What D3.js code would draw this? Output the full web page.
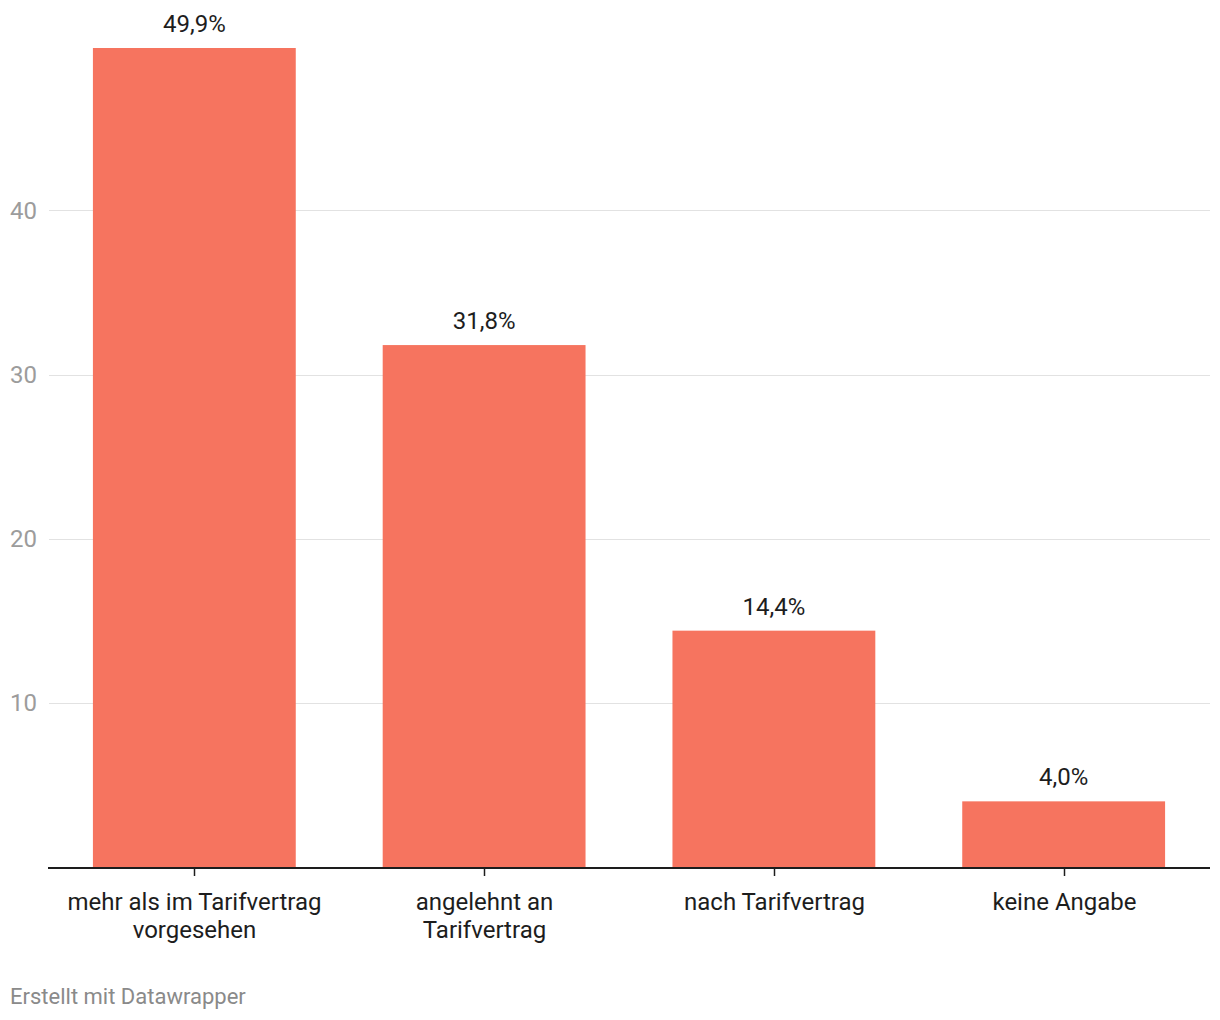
<!DOCTYPE html>
<html>
<head>
<meta charset="utf-8">
<script src="https://cdn.jsdelivr.net/npm/d3@7"></script>
<style>
  body { margin: 0; background: #fff; font-family: Roboto, sans-serif; }
</style>
</head>
<body>
<svg id="chart" width="1220" height="1020"></svg>
<script>
// data
const categories = [['mehr als im Tarifvertrag', 'vorgesehen'], ['angelehnt an', 'Tarifvertrag'], ['nach Tarifvertrag'], ['keine Angabe']];
const values = [49.9, 31.8, 14.4, 4.0];
const yTicks = [10, 20, 30, 40];

(() => {
  const svg = d3.select('#chart');
  const plot = { left: 48, right: 1210, top: 48, bottom: 867 };

  const x = d3.scaleBand().domain(d3.range(values.length)).range([plot.left, plot.right]).paddingInner(0.3).paddingOuter(0.155);
  const y = d3.scaleLinear().domain([0, 49.9]).range([plot.bottom, plot.top]);

  // gridlines + y labels
  const grid = svg.append('g');
  yTicks.forEach(t => {
    grid.append('line')
      .attr('x1', plot.left + 1).attr('x2', plot.right)
      .attr('y1', Math.round(y(t)) + 0.5).attr('y2', Math.round(y(t)) + 0.5)
      .attr('stroke', '#e2e2e2').attr('stroke-width', 1);
    grid.append('text')
      .attr('x', 10).attr('y', y(t) + 8.5)
      .attr('font-size', 24).attr('fill', '#9c9c9c')
      .text(t);
  });

  // bars
  svg.append('g').selectAll('rect')
    .data(values)
    .enter().append('rect')
    .attr('x', (d, i) => x(i))
    .attr('width', x.bandwidth())
    .attr('y', d => y(d))
    .attr('height', d => plot.bottom - y(d))
    .attr('fill', '#f6745f');

  // value labels
  svg.append('g').selectAll('text')
    .data(values)
    .enter().append('text')
    .attr('x', (d, i) => x(i) + x.bandwidth() / 2)
    .attr('y', d => y(d) - 16)
    .attr('text-anchor', 'middle')
    .attr('font-size', 24).attr('fill', '#1d1d1d')
    .text(d => d.toFixed(1).replace('.', ',') + '%');

  // baseline + ticks
  svg.append('line')
    .attr('x1', plot.left).attr('x2', plot.right)
    .attr('y1', plot.bottom + 1).attr('y2', plot.bottom + 1)
    .attr('stroke', '#1d1d1d').attr('stroke-width', 2);

  const xl = svg.append('g');
  categories.forEach((lines, i) => {
    const cx = Math.round(x(i) + x.bandwidth() / 2) + 0.5;
    xl.append('line')
      .attr('x1', cx).attr('x2', cx)
      .attr('y1', plot.bottom + 2).attr('y2', plot.bottom + 9)
      .attr('stroke', '#1d1d1d').attr('stroke-width', 1.5);
    const t = xl.append('text')
      .attr('text-anchor', 'middle')
      .attr('font-size', 24).attr('fill', '#1d1d1d');
    lines.forEach((s, j) => {
      t.append('tspan').attr('x', cx).attr('y', 910 + j * 28).text(s);
    });
  });

  // footer
  svg.append('text')
    .attr('x', 10).attr('y', 1004)
    .attr('font-size', 22).attr('fill', '#8a8a8a')
    .text('Erstellt mit Datawrapper');
})();
</script>
</body>
</html>
